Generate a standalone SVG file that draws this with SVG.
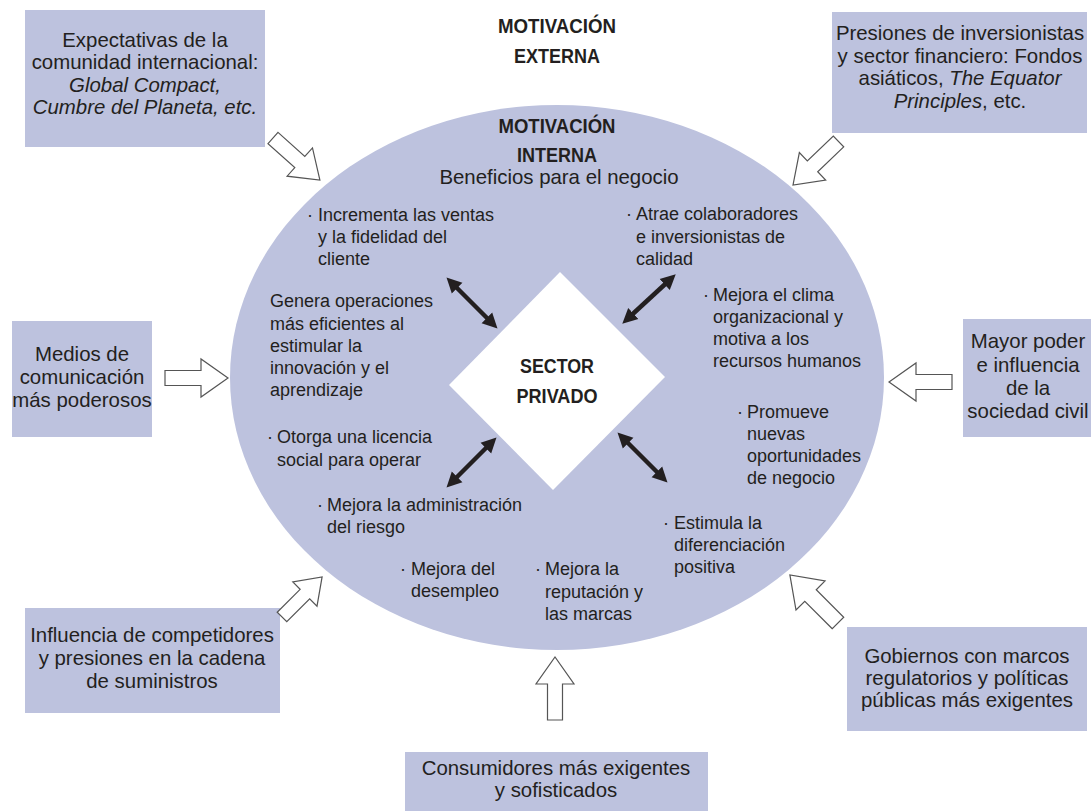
<svg xmlns="http://www.w3.org/2000/svg" width="1091" height="811" viewBox="0 0 1091 811">
<style>
.box{fill:#BDC2DE}
.t{font-family:"Liberation Sans",Arial,sans-serif;font-size:20.4px;fill:#231F20}
.s{font-family:"Liberation Sans",Arial,sans-serif;font-size:18px;fill:#231F20}
.b{font-family:"Liberation Sans",Arial,sans-serif;font-size:21px;font-weight:bold;fill:#231F20}
.c{text-anchor:middle}
.i{font-style:italic}
.ha{fill:#fff;stroke:#555;stroke-width:1.2;vector-effect:non-scaling-stroke}
.da{stroke:#231F20;stroke-width:4.5;fill:none;marker-start:url(#ah);marker-end:url(#ah)}
</style>
<defs>
<path id="hollow" class="ha" d="M0,-7.5 H36 V-19 L63,0 L36,19 V7.5 H0 Z"/>
<marker id="ah" markerUnits="userSpaceOnUse" markerWidth="17" markerHeight="17" refX="3" refY="8.5" orient="auto-start-reverse" viewBox="0 0 17 17">
<path d="M0,1 L15,8.5 L0,16 Z" fill="#231F20"/>
</marker>
</defs>
<rect width="1091" height="811" fill="#fff"/>

<g id="ellipse">
<ellipse cx="557" cy="377.5" rx="327" ry="272.5" fill="#BDC2DE"/>
</g>

<g id="titles">
<text class="b c" x="557" y="33" textLength="118" lengthAdjust="spacingAndGlyphs">MOTIVACIÓN</text>
<text class="b c" x="557" y="63" textLength="86" lengthAdjust="spacingAndGlyphs">EXTERNA</text>
<text class="b c" x="557" y="133" textLength="117" lengthAdjust="spacingAndGlyphs">MOTIVACIÓN</text>
<text class="b c" x="557" y="162" textLength="80" lengthAdjust="spacingAndGlyphs">INTERNA</text>
<text class="t c" x="559" y="184">Beneficios para el negocio</text>
</g>

<g id="sector-privado">
<polygon points="560,272 665,377 553,490 449,385" fill="#fff"/>
<text class="b c" x="557" y="373" textLength="74" lengthAdjust="spacingAndGlyphs">SECTOR</text>
<text class="b c" x="557" y="403" textLength="81" lengthAdjust="spacingAndGlyphs">PRIVADO</text>
</g>

<g id="benefits">
<text class="s"><tspan x="307" y="221">·</tspan><tspan x="318" y="221">Incrementa las ventas</tspan><tspan x="318" y="243">y la fidelidad del</tspan><tspan x="318" y="265">cliente</tspan></text>
<text class="s"><tspan x="270" y="307">Genera operaciones</tspan><tspan x="270" y="330">más eficientes al</tspan><tspan x="270" y="352">estimular la</tspan><tspan x="270" y="374">innovación y el</tspan><tspan x="270" y="396">aprendizaje</tspan></text>
<text class="s"><tspan x="267" y="443">·</tspan><tspan x="277" y="443">Otorga una licencia</tspan><tspan x="277" y="466">social para operar</tspan></text>
<text class="s"><tspan x="317" y="511">·</tspan><tspan x="327" y="511">Mejora la administración</tspan><tspan x="327" y="533">del riesgo</tspan></text>
<text class="s"><tspan x="400" y="575">·</tspan><tspan x="411" y="575">Mejora del</tspan><tspan x="411" y="597">desempleo</tspan></text>
<text class="s"><tspan x="535" y="575">·</tspan><tspan x="545" y="575">Mejora la</tspan><tspan x="545" y="598">reputación y</tspan><tspan x="545" y="620">las marcas</tspan></text>
<text class="s"><tspan x="626" y="220">·</tspan><tspan x="636" y="220">Atrae colaboradores</tspan><tspan x="636" y="243">e inversionistas de</tspan><tspan x="636" y="265">calidad</tspan></text>
<text class="s"><tspan x="703" y="301">·</tspan><tspan x="713" y="301">Mejora el clima</tspan><tspan x="713" y="323">organizacional y</tspan><tspan x="713" y="345">motiva a los</tspan><tspan x="713" y="367">recursos humanos</tspan></text>
<text class="s"><tspan x="737" y="418">·</tspan><tspan x="747" y="418">Promueve</tspan><tspan x="747" y="440">nuevas</tspan><tspan x="747" y="462">oportunidades</tspan><tspan x="747" y="484">de negocio</tspan></text>
<text class="s"><tspan x="663" y="529">·</tspan><tspan x="674" y="529">Estimula la</tspan><tspan x="674" y="551">diferenciación</tspan><tspan x="674" y="573">positiva</tspan></text>
</g>

<g id="box-expectativas">
<rect class="box" x="25" y="10" width="240" height="137"/>
<text class="t c"><tspan x="145" y="47">Expectativas de la</tspan><tspan x="145" y="69">comunidad internacional:</tspan><tspan x="145" y="92" class="i">Global Compact,</tspan><tspan x="145" y="114" class="i">Cumbre del Planeta, etc.</tspan></text>
</g>
<g id="box-presiones">
<rect class="box" x="832" y="12" width="255" height="121"/>
<text class="t c"><tspan x="960" y="40">Presiones de inversionistas</tspan><tspan x="960" y="63">y sector financiero: Fondos</tspan><tspan x="960" y="85">asiáticos, <tspan class="i">The Equator</tspan></tspan><tspan x="960" y="108"><tspan class="i">Principles</tspan>, etc.</tspan></text>
</g>
<g id="box-medios">
<rect class="box" x="12" y="321" width="140" height="116"/>
<text class="t c"><tspan x="82" y="361">Medios de</tspan><tspan x="82" y="384">comunicación</tspan><tspan x="82" y="407">más poderosos</tspan></text>
</g>
<g id="box-sociedad">
<rect class="box" x="963" y="319" width="130" height="118"/>
<text class="t c"><tspan x="1028" y="348">Mayor poder</tspan><tspan x="1028" y="372">e influencia</tspan><tspan x="1028" y="395">de la</tspan><tspan x="1028" y="418">sociedad civil</tspan></text>
</g>
<g id="box-competidores">
<rect class="box" x="25" y="608" width="255" height="105"/>
<text class="t c"><tspan x="152" y="642">Influencia de competidores</tspan><tspan x="152" y="665">y presiones en la cadena</tspan><tspan x="152" y="688">de suministros</tspan></text>
</g>
<g id="box-gobiernos">
<rect class="box" x="847" y="627" width="240" height="104"/>
<text class="t c"><tspan x="967" y="663">Gobiernos con marcos</tspan><tspan x="967" y="685">regulatorios y políticas</tspan><tspan x="967" y="707">públicas más exigentes</tspan></text>
</g>
<g id="box-consumidores">
<rect class="box" x="405" y="752" width="303" height="62"/>
<text class="t c"><tspan x="556" y="775">Consumidores más exigentes</tspan><tspan x="556" y="797">y sofisticados</tspan></text>
</g>

<g id="connectors">
<use href="#hollow" transform="translate(273,138) rotate(41.9)"/>
<use href="#hollow" transform="translate(838.5,141.4) rotate(136.2)"/>
<use href="#hollow" transform="translate(165,378)"/>
<use href="#hollow" transform="translate(952,382) rotate(180)"/>
<use href="#hollow" transform="translate(282,617) rotate(-45) scale(0.9)"/>
<use href="#hollow" transform="translate(838,623) rotate(-135) scale(1.08)"/>
<use href="#hollow" transform="translate(555,720) rotate(-90)"/>
<line class="da" x1="455" y1="286" x2="489" y2="320"/>
<line class="da" x1="666.9" y1="282.5" x2="631.1" y2="315.5"/>
<line class="da" x1="488" y1="446" x2="455" y2="479"/>
<line class="da" x1="626" y1="441" x2="659" y2="474"/>
</g>
</svg>
